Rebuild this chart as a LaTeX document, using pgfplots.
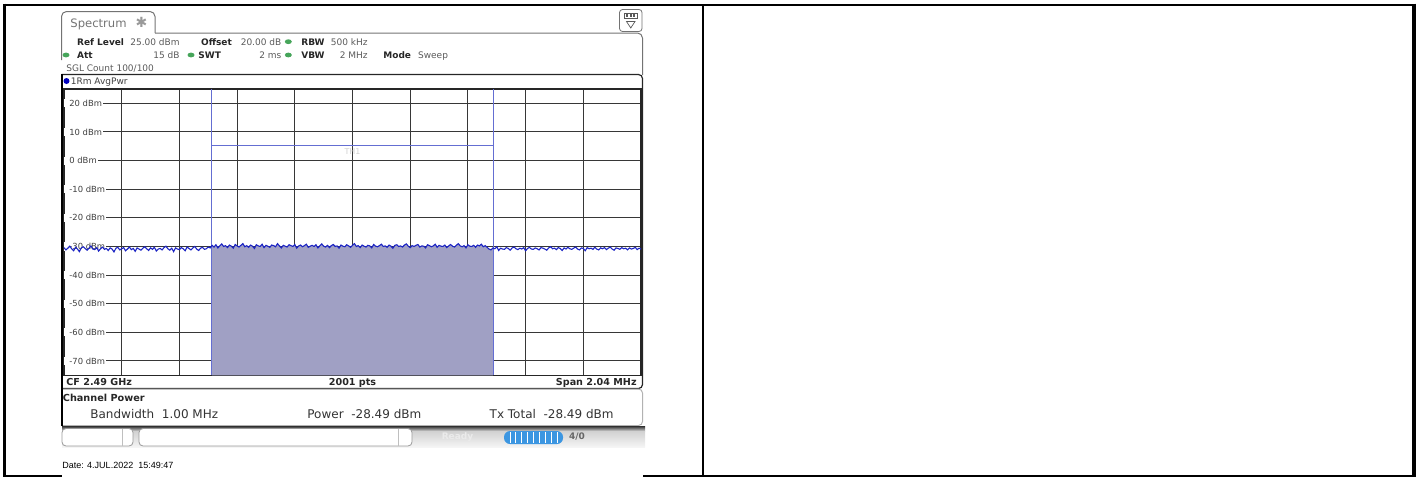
\documentclass[border=0pt]{standalone}
\usepackage{pgfplots}
\pgfplotsset{compat=1.18}
\usepackage{pgfplotstable}
\usepackage{fontspec}
\setmainfont{DejaVu Sans}
\newfontfamily\arialf{Liberation Sans}

\definecolor{tracec}{RGB}{28,36,195}
\definecolor{chfill}{RGB}{160,160,196}
\definecolor{chline}{RGB}{100,110,210}
\definecolor{gridc}{RGB}{55,55,55}
\definecolor{valc}{RGB}{90,90,90}
\definecolor{dotg}{RGB}{70,165,90}
\definecolor{barblue}{RGB}{60,150,225}
\newcommand\fs[1]{\fontsize{#1}{#1}\selectfont}

% trace level in dBm across the 2.04 MHz span
\pgfplotstableread{
y
-30.4
-31.2
-30.6
-29.9
-30.8
-31.5
-30.3
-30.9
-31.8
-30.5
-30.1
-30.7
-31.3
-30.6
-29.8
-30.9
-31.1
-30.4
-31.6
-30.8
-30.2
-31.0
-30.7
-31.4
-30.5
-30.9
-31.9
-30.6
-30.3
-31.2
-30.8
-30.4
-31.5
-30.9
-30.2
-31.1
-30.7
-31.7
-30.5
-30.9
-31.3
-30.6
-30.1
-30.8
-31.4
-30.5
-31.0
-30.3
-31.6
-30.9
-30.7
-31.2
-30.4
-29.9
-30.8
-31.3
-30.6
-31.8
-30.5
-30.9
-31.1
-30.4
-30.8
-31.5
-30.2
-30.7
-31.2
-30.5
-30.0
-30.9
-31.4
-30.6
-30.3
-31.0
-30.8
-30.2
-30.5
-29.6
-30.2
-29.4
-30.5
-29.8
-29.1
-30.0
-29.7
-30.4
-29.5
-29.9
-30.6
-29.3
-29.8
-30.2
-29.6
-29.0
-30.1
-29.7
-30.3
-29.5
-29.9
-30.7
-29.4
-29.8
-30.0
-29.2
-30.4
-29.6
-29.9
-30.3
-29.5
-29.7
-30.1
-29.0
-29.8
-30.5
-29.6
-29.9
-30.2
-29.4
-29.7
-30.0
-29.3
-30.6
-29.8
-29.5
-30.1
-29.7
-29.2
-30.3
-29.9
-29.6
-30.0
-29.4
-30.5
-29.8
-29.1
-29.9
-30.2
-29.6
-30.4
-29.7
-29.3
-30.0
-29.8
-30.6
-29.5
-29.9
-30.1
-29.4
-29.8
-30.3
-29.6
-29.0
-30.0
-29.7
-30.4
-29.5
-29.9
-30.2
-29.6
-29.8
-30.5
-29.3
-29.9
-30.1
-29.7
-29.2
-30.0
-29.8
-30.3
-29.5
-29.9
-30.6
-29.6
-29.4
-30.0
-29.8
-30.2
-29.5
-29.1
-29.9
-30.4
-29.7
-30.0
-29.6
-29.3
-30.2
-29.8
-29.9
-30.5
-29.4
-29.7
-30.1
-29.8
-29.2
-30.3
-29.6
-29.9
-30.0
-29.5
-30.4
-29.8
-29.3
-29.9
-30.2
-29.6
-29.0
-29.8
-30.1
-29.7
-30.5
-29.4
-29.9
-30.0
-29.6
-30.3
-29.5
-29.8
-29.2
-30.1
-29.7
-30.3
-30.9
-31.2
-30.5
-30.8
-30.1
-31.4
-30.6
-30.9
-31.0
-30.4
-30.7
-31.3
-30.5
-30.2
-30.8
-31.1
-30.6
-30.9
-30.4
-31.5
-30.7
-30.3
-30.9
-31.0
-30.5
-30.8
-31.2
-30.4
-30.6
-30.9
-31.3
-30.5
-30.1
-30.8
-30.6
-31.1
-30.4
-30.7
-31.4
-30.5
-30.9
-30.3
-30.8
-31.0
-30.6
-30.2
-30.9
-31.2
-30.5
-30.7
-31.5
-30.4
-30.8
-30.6
-31.0
-30.3
-30.9
-31.2
-30.5
-30.8
-30.4
-31.1
-30.6
-30.2
-30.9
-31.3
-30.5
-30.7
-31.0
-30.4
-30.8
-30.6
-31.2
-30.5
-30.9
-30.7
-30.3
-31.1
-30.6
-30.9
-30.4
-31.0
-30.7
}\tracedata

\begin{document}
\begin{tikzpicture}
\path[use as bounding box] (0,0) rectangle (708pt,-238.5pt);
% the axis runs from -75 dBm (y=0) to 25 dBm (y=100): y is dBm + 75
\begin{axis}[
  at={(32pt,-44.5pt)}, anchor=north west,
  scale only axis, width=288.5pt, height=143.15pt,
  xmin=0, xmax=2.04, ymin=0, ymax=100,
  xtick={0.204,0.408,0.612,0.816,1.02,1.224,1.428,1.632,1.836},
  ytick={5,15,25,35,45,55,65,75,85,95},
  xticklabels={}, yticklabels={},
  major tick length=0pt,
  grid=major,
  grid style={draw=gridc, line width=0.5pt},
  axis line style={draw=black!85, line width=0.8pt},
]
\pgfplotsinvokeforeach{20,10,0,-10,-20,-30,-40,-50,-60,-70}{
  \node[anchor=west, fill=white, inner xsep=0.5pt, inner ysep=0.4pt, font=\fs{4.2}, text=black!75] at (axis cs:0,#1+75) {\hspace*{2pt}#1 dBm};
}
\addplot[fill=chfill, draw=none, restrict x to domain=0.52:1.52] table[x index=0, y index=0, x expr=\coordindex*0.0068, y expr=\thisrowno{0}+75] {\tracedata} \closedcycle;
\draw[chline, line width=0.45pt] (axis cs:0.52,0) -- (axis cs:0.52,100);
\draw[chline, line width=0.45pt] (axis cs:1.52,0) -- (axis cs:1.52,100);
\draw[chline, line width=0.45pt] (axis cs:0.52,80.2) -- (axis cs:1.52,80.2);
\node[font=\fs{4}, text=black!18] at (axis cs:1.02,78.1) {TH1};
\addplot[tracec, line width=0.55pt] table[x index=0, y index=0, x expr=\coordindex*0.0068, y expr=\thisrowno{0}+75] {\tracedata};
\end{axis}

\begin{scope}[x=0.5pt,y=-0.5pt]
% table borders
\draw[line width=0.85pt] (3,4.7) -- (1416,4.7);
\draw[line width=1.35pt] (4.7,3.5) -- (4.7,477);
\draw[line width=1.8pt] (1413.8,3.5) -- (1413.8,477);
\draw[line width=1pt] (703,4.7) -- (703,477);
\draw[line width=0.75pt] (3.5,476.2) -- (61.5,476.2);
\draw[line width=0.75pt] (643,476.2) -- (1416,476.2);

% tab and header
\draw[black!55, line width=0.5pt, rounded corners=2.5pt] (61.5,60) -- (61.5,11.5) -- (155,11.5) -- (155,33);
\draw[black!55, line width=0.5pt, rounded corners=2.5pt] (155,33) -- (642.5,33) -- (642.5,75);
\node[anchor=base west, inner sep=0pt, text=black!55, font=\fs{5.8}] at (70,27.5) {Spectrum};
\node[inner sep=0pt, text=black!40, font=\fs{7}] at (141.5,22.5) {✱};
% top right icon
\draw[black!55, line width=0.4pt, rounded corners=1.5pt, fill=white] (619.5,9.5) rectangle (642,31.5);
\draw[black!65, line width=0.35pt] (624.5,13) rectangle (637,18.5);
\fill[black!65] (626,14.2) rectangle (628,17.3);
\fill[black!65] (629.5,14.2) rectangle (631.5,17.3);
\fill[black!65] (633,14.2) rectangle (635,17.3);
\draw[black!65, line width=0.35pt] (626.5,21.5) -- (635,21.5) -- (630.75,28) -- cycle;

% header rows
\node[anchor=base west, inner sep=0pt, font=\fs{4.5}\bfseries, text=black!85] at (76.7,45) {Ref Level};
\node[anchor=base east, inner sep=0pt, font=\fs{4.5}, text=valc] at (180,45) {25.00 dBm};
\node[anchor=base west, inner sep=0pt, font=\fs{4.5}\bfseries, text=black!85] at (200.7,45) {Offset};
\node[anchor=base east, inner sep=0pt, font=\fs{4.5}, text=valc] at (281.7,45) {20.00 dB};
\fill[dotg] (288.3,41.7) ellipse (1.75pt and 1.2pt);
\node[anchor=base west, inner sep=0pt, font=\fs{4.5}\bfseries, text=black!85] at (301,45) {RBW};
\node[anchor=base east, inner sep=0pt, font=\fs{4.5}, text=valc] at (368,45) {500 kHz};

\fill[dotg] (66,55) ellipse (1.75pt and 1.2pt);
\node[anchor=base west, inner sep=0pt, font=\fs{4.5}\bfseries, text=black!85] at (76.7,58.3) {Att};
\node[anchor=base east, inner sep=0pt, font=\fs{4.5}, text=valc] at (180,58.3) {15 dB};
\fill[dotg] (191,55) ellipse (1.75pt and 1.2pt);
\node[anchor=base west, inner sep=0pt, font=\fs{4.5}\bfseries, text=black!85] at (198,58.3) {SWT};
\node[anchor=base east, inner sep=0pt, font=\fs{4.5}, text=valc] at (281.7,58.3) {2 ms};
\fill[dotg] (288.3,55) ellipse (1.75pt and 1.2pt);
\node[anchor=base west, inner sep=0pt, font=\fs{4.5}\bfseries, text=black!85] at (301,58.3) {VBW};
\node[anchor=base east, inner sep=0pt, font=\fs{4.5}, text=valc] at (368,58.3) {2 MHz};
\node[anchor=base west, inner sep=0pt, font=\fs{4.5}\bfseries, text=black!85] at (383,58.3) {Mode};
\node[anchor=base west, inner sep=0pt, font=\fs{4.5}, text=valc] at (417.7,58.3) {Sweep};

\node[anchor=base west, inner sep=0pt, font=\fs{4.5}, text=valc] at (66,71.6) {SGL Count 100/100};

% plot panel
\draw[black!85, line width=0.6pt, rounded corners=2pt] (61.5,74.5) -- (642.5,74.5) -- (642.5,388.5) -- (61.5,388.5);
\fill[blue!75!black] (66.5,81) circle (1.5pt);
\node[anchor=base west, inner sep=0pt, font=\fs{4.5}, text=black!75] at (70.5,84.3) {1Rm AvgPwr};
\node[anchor=base west, inner sep=0pt, font=\fs{4.8}\bfseries, text=black!85] at (66,385.5) {CF 2.49 GHz};
\node[anchor=base, inner sep=0pt, font=\fs{4.8}\bfseries, text=black!85] at (352.5,385.5) {2001 pts};
\node[anchor=base east, inner sep=0pt, font=\fs{4.8}\bfseries, text=black!85] at (637,385.5) {Span 2.04 MHz};

% channel power panel
\draw[black!30, line width=0.5pt, rounded corners=2pt] (61.5,389) -- (642.5,389) -- (642.5,425.5) -- (61.5,425.5);
\node[anchor=base west, inner sep=0pt, font=\fs{4.85}\bfseries, text=black!85] at (62.5,401.5) {Channel Power};
\node[anchor=base west, inner sep=0pt, font=\fs{6}, text=black!80] at (90,418.4) {Bandwidth\ \ 1.00 MHz};
\node[anchor=base west, inner sep=0pt, font=\fs{6}, text=black!80] at (307,418.4) {Power\ \ -28.49 dBm};
\node[anchor=base east, inner sep=0pt, font=\fs{6}, text=black!80] at (614,418.4) {Tx Total\ \ -28.49 dBm};
\draw[black, line width=1.1pt] (61.7,74) -- (61.7,426);

% bottom bar
\shade[top color=black!75, bottom color=black!18] (62,426.5) rectangle (645,431);
\shade[top color=black!18, bottom color=black!4] (62,431) rectangle (645,447);
\draw[black!40, fill=white, rounded corners=2pt, line width=0.4pt] (62,428.5) rectangle (133,446);
\draw[black!25, line width=0.4pt] (122,429) -- (122,445.5);
\draw[black!40, fill=white, rounded corners=2pt, line width=0.4pt] (139,428.5) rectangle (412,446);
\draw[black!25, line width=0.4pt] (398,429) -- (398,445.5);
\node[inner sep=0pt, font=\fs{4.5}\bfseries, text=black!8] at (457.5,437) {Ready};
\fill[barblue, rounded corners=3pt] (504,431) rectangle (563,444);
\foreach \i in {509.9,515.8,...,557.2} \draw[white, line width=0.4pt] (\i,432) -- (\i,443);
\node[inner sep=0pt, font=\fs{4.5}\bfseries, text=black!60] at (577,437) {4/0};

% date
\node[anchor=base west, inner sep=0pt, font=\arialf\fs{4.5}] at (62,468.2) {Date: 4.JUL.2022\ \ 15:49:47};
\end{scope}
\end{tikzpicture}
\end{document}
